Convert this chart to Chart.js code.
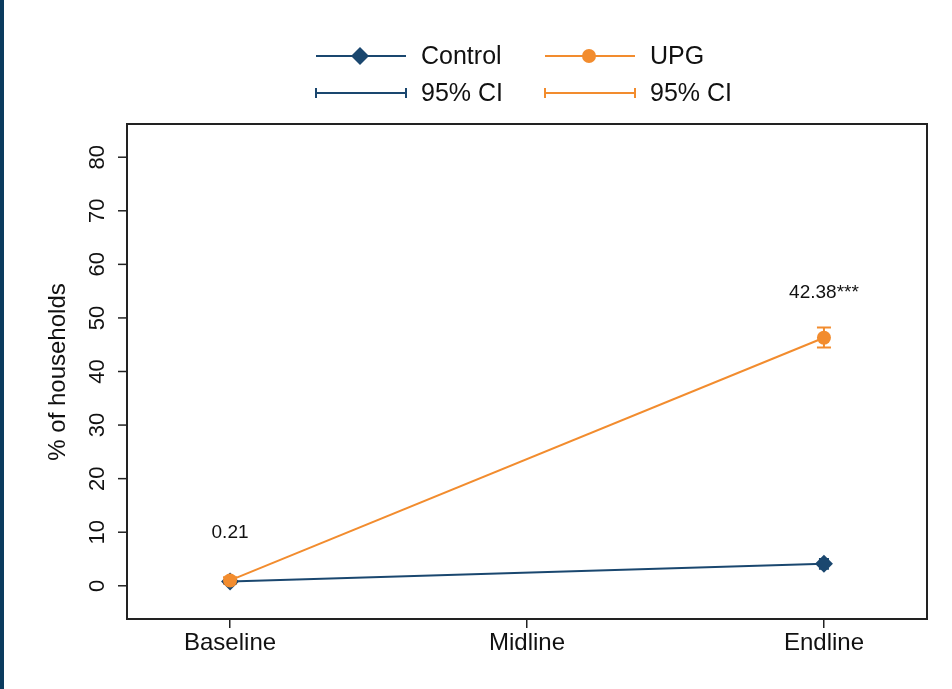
<!DOCTYPE html>
<html>
<head>
<meta charset="utf-8">
<script src="https://cdn.jsdelivr.net/npm/chart.js@4"></script>
<style>
  html, body { margin: 0; padding: 0; background: #fff; }
  #wrap { position: relative; width: 952px; height: 689px; }
  #strip { position: absolute; left: 0; top: 0; width: 4px; height: 689px; background: #0b3b5e; }
</style>
</head>
<body>
<div id="wrap">
  <canvas id="chart" width="952" height="689"></canvas>
  <div id="strip"></div>
</div>
<script>
// Survey rounds and estimates (% of households)
const categories = ['Baseline', 'Midline', 'Endline'];
const controlMean = [0.8, null, 4.1];
const controlLo = [0.3, null, 3.2];
const controlHi = [1.3, null, 5.0];
const upgMean = [1.0, null, 46.3];
const upgLo = [0.4, null, 44.5];
const upgHi = [1.6, null, 48.2];
// Treatment effect labels and where they sit on the y scale
const effectText = ['0.21', '', '42.38***'];
const effectY = [9.9, null, 54.7];
const yTicks = [0, 10, 20, 30, 40, 50, 60, 70, 80];

const NAVY = '#1a476f';
const ORANGE = '#f28c2e';
const FONT = '"Liberation Sans", Arial, sans-serif';

function toPoints(arr) {
    const pts = [];
    arr.forEach((v, i) => { if (v !== null) pts.push({ x: i, y: v }); });
    return pts;
}

// Confidence intervals, frame, y ticks, labels and legend
const extras = {
    id: 'extras',
    beforeDatasetsDraw(chart) {
        const ctx = chart.ctx;
        const xs = chart.scales.x, ys = chart.scales.y;
        const bars = [[controlLo, controlHi, NAVY, 5], [upgLo, upgHi, ORANGE, 7]];
        ctx.save();
        ctx.lineWidth = 2;
        bars.forEach(([lo, hi, col, cap]) => {
            ctx.strokeStyle = col;
            lo.forEach((l, i) => {
                if (l === null) return;
                const x = xs.getPixelForValue(i);
                const y1 = ys.getPixelForValue(l), y2 = ys.getPixelForValue(hi[i]);
                ctx.beginPath();
                ctx.moveTo(x, y1); ctx.lineTo(x, y2);
                ctx.moveTo(x - cap, y1); ctx.lineTo(x + cap, y1);
                ctx.moveTo(x - cap, y2); ctx.lineTo(x + cap, y2);
                ctx.stroke();
            });
        });
        ctx.restore();
    },
    afterDraw(chart) {
        const ctx = chart.ctx;
        const a = chart.chartArea;
        const xs = chart.scales.x, ys = chart.scales.y;
        ctx.save();
        // frame
        ctx.strokeStyle = '#222';
        ctx.lineWidth = 2;
        ctx.strokeRect(a.left, a.top, a.right - a.left, a.bottom - a.top);
        // y ticks, rotated labels
        ctx.lineWidth = 1.5;
        ctx.fillStyle = '#111';
        ctx.font = '22px ' + FONT;
        ctx.textAlign = 'center';
        ctx.textBaseline = 'middle';
        yTicks.forEach(t => {
            const y = ys.getPixelForValue(t);
            ctx.beginPath();
            ctx.moveTo(a.left - 9, y); ctx.lineTo(a.left, y);
            ctx.stroke();
            ctx.save();
            ctx.translate(98, y);
            ctx.rotate(-Math.PI / 2);
            ctx.fillText(String(t), 0, 0);
            ctx.restore();
        });
        // y title
        ctx.save();
        ctx.font = '24px ' + FONT;
        ctx.translate(58, 372);
        ctx.rotate(-Math.PI / 2);
        ctx.fillText('% of households', 0, 0);
        ctx.restore();
        // effect labels
        ctx.font = '19px ' + FONT;
        effectText.forEach((s, i) => {
            if (!s) return;
            ctx.fillText(s, xs.getPixelForValue(i), ys.getPixelForValue(effectY[i]));
        });
        // legend
        ctx.font = '25px ' + FONT;
        ctx.textAlign = 'left';
        ctx.lineWidth = 2;
        const rows = [
            [316, 56, NAVY, 'Control', 'diamond'],
            [545, 56, ORANGE, 'UPG', 'circle'],
            [316, 93, NAVY, '95% CI', 'ci'],
            [545, 93, ORANGE, '95% CI', 'ci']
        ];
        rows.forEach(([x, y, col, label, kind]) => {
            ctx.strokeStyle = col;
            ctx.fillStyle = col;
            ctx.beginPath();
            ctx.moveTo(x, y); ctx.lineTo(x + 90, y);
            if (kind === 'ci') {
                ctx.moveTo(x, y - 5); ctx.lineTo(x, y + 5);
                ctx.moveTo(x + 90, y - 5); ctx.lineTo(x + 90, y + 5);
            }
            ctx.stroke();
            if (kind === 'diamond') {
                const cx = x + 44, r = 9;
                ctx.beginPath();
                ctx.moveTo(cx, y - r); ctx.lineTo(cx + r, y); ctx.lineTo(cx, y + r); ctx.lineTo(cx - r, y);
                ctx.closePath(); ctx.fill();
            } else if (kind === 'circle') {
                ctx.beginPath();
                ctx.arc(x + 44, y, 7, 0, Math.PI * 2);
                ctx.fill();
            }
            ctx.fillStyle = '#111';
            ctx.fillText(label, x + 105, y + 1);
        });
        ctx.restore();
    }
};

new Chart(document.getElementById('chart'), {
    type: 'line',
    data: {
        datasets: [
            {
                label: 'Control',
                data: toPoints(controlMean),
                borderColor: NAVY,
                backgroundColor: NAVY,
                borderWidth: 2,
                pointStyle: 'rectRot',
                pointRadius: 9,
                pointBorderWidth: 0,
                order: 2
            },
            {
                label: 'UPG',
                data: toPoints(upgMean),
                borderColor: ORANGE,
                backgroundColor: ORANGE,
                borderWidth: 2,
                pointStyle: 'circle',
                pointRadius: 7,
                pointBorderWidth: 0,
                order: 1
            }
        ]
    },
    options: {
        responsive: false,
        animation: false,
        layout: { padding: { left: 0, top: 124, right: 25, bottom: 0 } },
        plugins: { legend: { display: false }, tooltip: { enabled: false } },
        scales: {
            x: {
                type: 'linear',
                min: -0.347,
                max: 2.347,
                afterBuildTicks: scale => { scale.ticks = categories.map((c, i) => ({ value: i })); },
                afterFit: scale => { scale.height = 70; },
                border: { display: false },
                grid: { drawOnChartArea: false, drawTicks: true, tickLength: 9, color: '#222', lineWidth: 1.5 },
                ticks: {
                    callback: v => categories[v],
                    color: '#111',
                    font: { family: FONT, size: 24 },
                    maxRotation: 0,
                    padding: 1
                }
            },
            y: {
                min: -6.2,
                max: 86.2,
                afterBuildTicks: scale => { scale.ticks = yTicks.map(v => ({ value: v })); },
                afterFit: scale => { scale.width = 127; },
                border: { display: false },
                grid: { display: false },
                ticks: { display: false }
            }
        }
    },
    plugins: [extras]
});
</script>
</body>
</html>
